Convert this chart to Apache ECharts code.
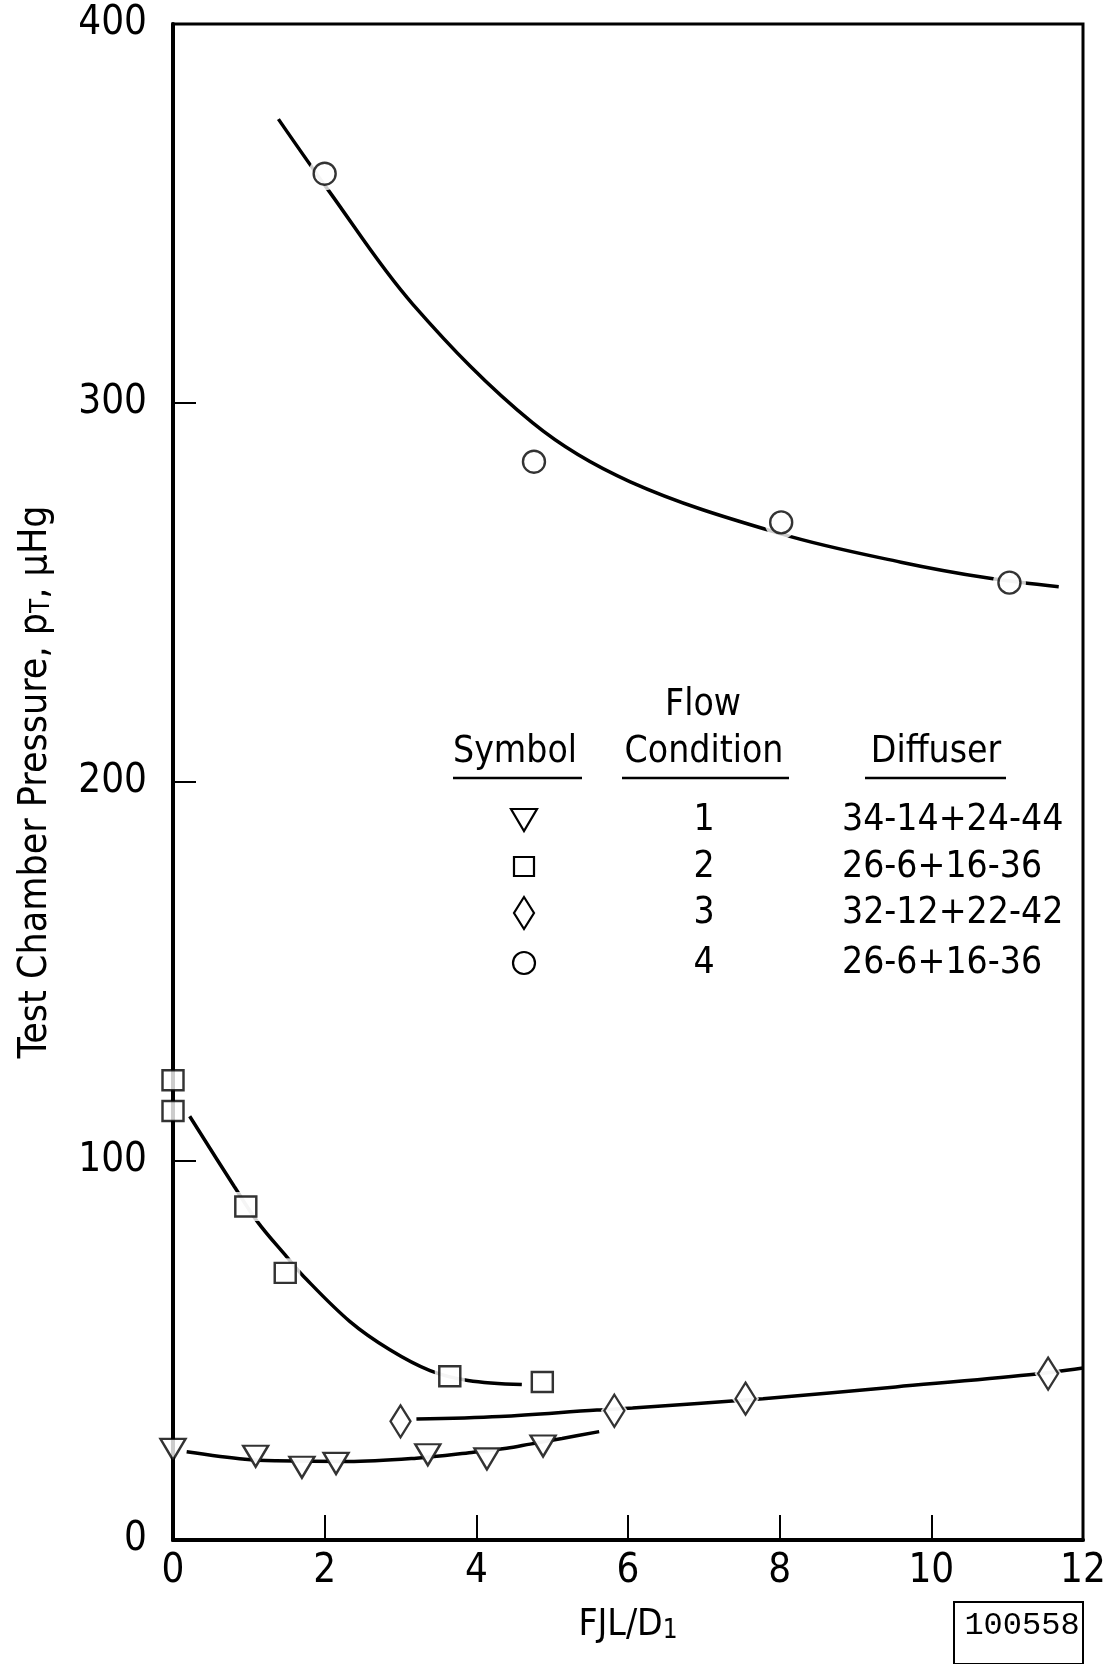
<!DOCTYPE html>
<html lang="en">
<head>
    <meta charset="UTF-8">
    <title>Test Chamber Pressure</title>
    <script src="https://cdn.jsdelivr.net/npm/echarts@6/dist/echarts.min.js"></script>
    <style>html, body {margin: 0; padding: 0; background: #fff;}</style>
</head>
<body>
<div id="main" style="width: 1107px; height: 1664px"></div>

<script>
    // flow condition 1 - triangles
    const flow1X = [0, 1.09, 1.70, 2.15, 3.36, 4.14, 4.88];
    const flow1Y = [23.9, 22.1, 19.2, 20.2, 22.5, 21.4, 24.8];
    const curve1X = [0.18, 0.95, 1.36, 2.31, 3.21, 3.94, 4.40, 4.71, 5.13, 5.62];
    const curve1Y = [23.3, 21.3, 20.9, 20.7, 21.6, 23.1, 24.2, 25.3, 26.8, 28.6];

    // flow condition 2 - squares
    const flow2X = [0, 0, 0.96, 1.48, 3.65, 4.87];
    const flow2Y = [121.3, 113.2, 88.0, 70.5, 43.2, 41.7];
    const curve2X = [0.22, 0.81, 1.12, 1.50, 1.72, 2.33, 2.86, 3.39, 3.89, 4.60];
    const curve2Y = [111.8, 93.2, 83.8, 74.7, 69.6, 57.7, 50.2, 44.7, 42.1, 41.0];

    // flow condition 3 - diamonds
    const flow3X = [3.0, 5.82, 7.55, 11.54];
    const flow3Y = [31.3, 34.1, 37.3, 43.9];
    const curve3X = [3.21, 4.31, 5.59, 6.06, 7.78, 9.53, 11.29, 12.0];
    const curve3Y = [31.9, 32.6, 34.3, 34.8, 37.3, 40.4, 43.6, 45.4];

    // flow condition 4 - circles
    const flow4X = [2.0, 4.76, 8.02, 11.03];
    const flow4Y = [360.5, 284.5, 268.5, 252.6];
    const curve4X = [1.39, 2.05, 3.16, 4.74, 6.03, 8.03, 9.60, 10.75, 11.68];
    const curve4Y = [374.9, 356.1, 326.1, 294.8, 279.2, 265.4, 258.0, 253.8, 251.5];

    // legend table
    const conditions = ['1', '2', '3', '4'];
    const diffusers = ['34-14+24-44', '26-6+16-36', '32-12+22-42', '26-6+16-36'];

    const xTicks = [0, 2, 4, 6, 8, 10, 12];
    const yTicks = [0, 100, 200, 300, 400];

    const FONT = '"Liberation Sans Narrow", "DejaVu Sans Condensed", "Roboto Condensed", sans-serif';

    function pairs(xs, ys) {
        return xs.map((x, i) => [x, ys[i]]);
    }

    const groups = [
        {name: 'Flow 1', x: flow1X, y: flow1Y, cx: curve1X, cy: curve1Y, symbol: 'triangle', size: [25, 21], rotate: 180, halo: 4},
        {name: 'Flow 2', x: flow2X, y: flow2Y, cx: curve2X, cy: curve2Y, symbol: 'rect', size: [21, 20], rotate: 0, halo: 9},
        {name: 'Flow 3', x: flow3X, y: flow3Y, cx: curve3X, cy: curve3Y, symbol: 'diamond', size: [20, 32], rotate: 0, halo: 7},
        {name: 'Flow 4', x: flow4X, y: flow4Y, cx: curve4X, cy: curve4Y, symbol: 'circle', size: [22, 22], rotate: 0, halo: 11}
    ];

    const series = [];
    groups.forEach(g => {
        // faired curve
        series.push({
            type: 'line',
            name: g.name + ' curve',
            data: pairs(g.cx, g.cy),
            smooth: 0.35,
            showSymbol: false,
            silent: true,
            lineStyle: {color: '#000', width: 3.5},
            z: 1
        });
        // white gap round the points
        series.push({
            type: 'scatter',
            name: g.name + ' gap',
            data: pairs(g.x, g.y),
            symbol: g.symbol,
            symbolRotate: g.rotate,
            symbolSize: [g.size[0] + g.halo, g.size[1] + g.halo],
            silent: true,
            itemStyle: {color: '#fff'},
            z: 2
        });
    });
    groups.forEach(g => {
        series.push({
            type: 'scatter',
            name: g.name,
            data: pairs(g.x, g.y),
            symbol: g.symbol,
            symbolRotate: g.rotate,
            symbolSize: g.size,
            itemStyle: {color: '#fff', borderColor: '#000', borderWidth: 2.4},
            z: 5
        });
    });

    // legend table drawn as graphics
    const rowY = [820, 867, 913, 963];
    const graphic = [];
    const headStyle = {font: '37px ' + FONT, fill: '#000', align: 'center', verticalAlign: 'middle'};
    graphic.push({type: 'text', x: 703, y: 705, style: Object.assign({text: 'Flow'}, headStyle)});
    graphic.push({type: 'text', x: 515, y: 752, style: Object.assign({text: 'Symbol'}, headStyle)});
    graphic.push({type: 'text', x: 704, y: 752, style: Object.assign({text: 'Condition'}, headStyle)});
    graphic.push({type: 'text', x: 936, y: 752, style: Object.assign({text: 'Diffuser'}, headStyle)});
    [[453, 582], [622, 789], [865, 1006]].forEach(u => {
        graphic.push({type: 'line', shape: {x1: u[0], y1: 778, x2: u[1], y2: 778}, style: {stroke: '#000', lineWidth: 2.5}});
    });
    rowY.forEach((y, i) => {
        graphic.push({type: 'text', x: 704, y: y, style: Object.assign({text: conditions[i]}, headStyle)});
        graphic.push({type: 'text', x: 842, y: y, style: {text: diffusers[i], font: '37px ' + FONT, fill: '#000', align: 'left', verticalAlign: 'middle'}});
    });
    const legendStroke = {fill: '#fff', stroke: '#000', lineWidth: 2.2};
    graphic.push({type: 'polygon', shape: {points: [[511, 809], [537, 809], [524, 831]]}, style: legendStroke});
    graphic.push({type: 'rect', shape: {x: 514, y: 857, width: 20, height: 19}, style: legendStroke});
    graphic.push({type: 'polygon', shape: {points: [[524, 897], [534, 913], [524, 929], [514, 913]]}, style: legendStroke});
    graphic.push({type: 'circle', shape: {cx: 524, cy: 963, r: 11}, style: legendStroke});

    // drawing number box
    graphic.push({type: 'rect', shape: {x: 954, y: 1602, width: 129, height: 62}, style: {fill: 'none', stroke: '#000', lineWidth: 2}});
    graphic.push({type: 'text', x: 1022, y: 1626, style: {text: '100558', font: '32px "Liberation Mono", "DejaVu Sans Mono", monospace', fill: '#000', align: 'center', verticalAlign: 'middle'}});

    const chart = echarts.init(document.getElementById('main'));
    chart.setOption({
        animation: false,
        backgroundColor: '#fff',
        grid: {
            left: 173, right: 24, top: 24, bottom: 124,
            show: true, borderColor: '#000', borderWidth: 3,
            containLabel: false, outerBoundsMode: 'none'
        },
        xAxis: {
            type: 'value',
            min: xTicks[0], max: xTicks[xTicks.length - 1], interval: 2,
            z: 3,
            name: 'FJL/D{sub|1}',
            nameLocation: 'middle',
            nameGap: 67,
            nameTextStyle: {
                fontFamily: FONT, fontSize: 37, color: '#000',
                rich: {sub: {fontFamily: FONT, fontSize: 26, color: '#000', verticalAlign: 'bottom', lineHeight: 20}}
            },
            axisLine: {show: true, lineStyle: {color: '#000', width: 4}},
            axisTick: {show: true, inside: true, length: 25, lineStyle: {color: '#000', width: 2}},
            axisLabel: {
                fontFamily: FONT, fontSize: 40, color: '#000', margin: 12,
                showMinLabel: true, showMaxLabel: true
            },
            splitLine: {show: false}
        },
        yAxis: {
            type: 'value',
            min: yTicks[0], max: yTicks[yTicks.length - 1], interval: 100,
            z: 3,
            name: 'Test Chamber Pressure, p{sub|T}, \u03bcHg',
            nameLocation: 'middle',
            nameRotate: 90,
            nameGap: 118,
            nameTextStyle: {
                fontFamily: FONT, fontSize: 39, color: '#000',
                rich: {sub: {fontFamily: FONT, fontSize: 26, color: '#000', verticalAlign: 'bottom', lineHeight: 20}}
            },
            axisLine: {show: true, lineStyle: {color: '#000', width: 4}},
            axisTick: {show: true, inside: true, length: 23, lineStyle: {color: '#000', width: 2}},
            axisLabel: {
                fontFamily: FONT, fontSize: 40, color: '#000', margin: 26,
                showMinLabel: true, showMaxLabel: true
            },
            splitLine: {show: false}
        },
        graphic: graphic,
        series: series
    });
</script>
</body>
</html>
